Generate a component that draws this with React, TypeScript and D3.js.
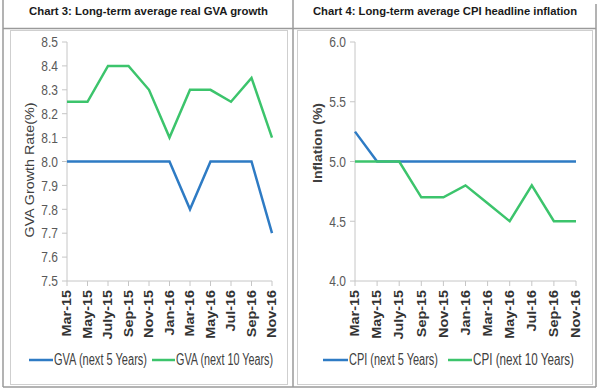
import React from "react";
import * as d3 from "d3";

const months = ["Mar-15", "May-15", "July-15", "Sep-15", "Nov-15", "Jan-16", "Mar-16", "May-16", "Jul-16", "Sep-16", "Nov-16"];

const gva5 = [8.0, 8.0, 8.0, 8.0, 8.0, 8.0, 7.8, 8.0, 8.0, 8.0, 7.7];
const gva10 = [8.25, 8.25, 8.4, 8.4, 8.3, 8.1, 8.3, 8.3, 8.25, 8.35, 8.1];
const gvaTicks = [7.5, 7.6, 7.7, 7.8, 7.9, 8.0, 8.1, 8.2, 8.3, 8.4, 8.5];

const cpi5 = [5.25, 5.0, 5.0, 5.0, 5.0, 5.0, 5.0, 5.0, 5.0, 5.0, 5.0];
const cpi10 = [5.0, 5.0, 5.0, 4.7, 4.7, 4.8, 4.65, 4.5, 4.8, 4.5, 4.5];
const cpiTicks = [4.0, 4.5, 5.0, 5.5, 6.0];

const BLUE = "#2e7bc4";
const GREEN = "#3cc46c";
const FONT = "'Liberation Sans', Arial, sans-serif";

type PanelProps = {
  title: string;
  titleX: number;
  titleLen: number;
  yLabel: string;
  yLabelX: number;
  yLabelY: number;
  yLabelLen: number;
  yLabelBold: boolean;
  x0: number;
  x1: number;
  domain: [number, number];
  ticks: number[];
  s5: number[];
  s10: number[];
  legend: { x: number; lineEnd: number; text: string; textLen: number; color: string }[];
};

function Panel(p: PanelProps) {
  const top = 42;
  const bottom = 281;
  const x = d3.scalePoint<string>().domain(months).range([p.x0, p.x1]);
  const y = d3.scaleLinear().domain(p.domain).range([bottom, top]);
  const line = d3
    .line<number>()
    .x((_, i) => x(months[i]) as number)
    .y((d) => y(d));

  return (
    <g fontFamily={FONT}>
      <text x={p.titleX} y={15} textAnchor="middle" fontSize={11} fontWeight="bold" fill="#1a1a1a"
        textLength={p.titleLen} lengthAdjust="spacingAndGlyphs">
        {p.title}
      </text>
      {/* y axis */}
      <line x1={p.x0} x2={p.x0} y1={top} y2={bottom} stroke="#c6c6c6" />
      {p.ticks.map((t) => (
        <g key={t}>
          <line x1={p.x0 - 5} x2={p.x0} y1={y(t)} y2={y(t)} stroke="#c6c6c6" />
          <g transform={`translate(${p.x0 - 9},${y(t)}) scale(1,1.25)`}>
            <text textAnchor="end" dy="0.35em" fontSize={12} fill="#595959">
              {d3.format(".1f")(t)}
            </text>
          </g>
        </g>
      ))}
      {/* x axis */}
      <line x1={p.x0} x2={p.x1} y1={bottom} y2={bottom} stroke="#c6c6c6" />
      {months.map((m) => (
        <g key={m}>
          <line x1={x(m)} x2={x(m)} y1={bottom} y2={bottom + 5} stroke="#c6c6c6" />
          <g transform={`translate(${x(m)},${bottom + 9}) rotate(-90) scale(1.2,1)`}>
            <text textAnchor="end" dy="0.35em" fontSize={12} fontWeight="bold" fill="#333">
              {m}
            </text>
          </g>
        </g>
      ))}
      <g transform={`translate(${p.yLabelX},${p.yLabelY}) rotate(-90)`}>
        <text textAnchor="middle" dy="0.35em" fontSize={12} fill="#404040"
          fontWeight={p.yLabelBold ? "bold" : "normal"}
          textLength={p.yLabelLen} lengthAdjust="spacingAndGlyphs">
          {p.yLabel}
        </text>
      </g>
      <path d={line(p.s5) ?? ""} fill="none" stroke={BLUE} strokeWidth={2.5} />
      <path d={line(p.s10) ?? ""} fill="none" stroke={GREEN} strokeWidth={2.5} />
      {p.legend.map((l) => (
        <g key={l.text}>
          <line x1={l.x} x2={l.lineEnd} y1={360} y2={360} stroke={l.color} strokeWidth={2.5} />
          <g transform={`translate(${l.lineEnd + 1},360) scale(1,1.3)`}>
            <text dy="0.35em" fontSize={12} fill="#404040" textLength={l.textLen} lengthAdjust="spacingAndGlyphs">
              {l.text}
            </text>
          </g>
        </g>
      ))}
    </g>
  );
}

export default function App() {
  return (
    <div style={{ position: "fixed", left: 0, top: 0 }}>
      <svg width={602} height={391} style={{ display: "block", background: "#fff" }}>
        {/* table frame */}
        <g stroke="#9a9a9a" strokeWidth={1.5} fill="none">
          <line x1={3} x2={3} y1={0} y2={387} />
          <line x1={293} x2={293} y1={0} y2={387} />
          <line x1={596} x2={596} y1={4} y2={387} />
          <line x1={3} x2={596} y1={28.5} y2={28.5} />
          <line x1={3} x2={596} y1={387} y2={387} />
        </g>
        <g stroke="#cfcfcf" fill="none">
          <rect x={10.5} y={30.5} width={277} height={354} />
          <rect x={297.5} y={30.5} width={295} height={354} />
        </g>
        <Panel
          title="Chart 3: Long-term average real GVA growth"
          titleX={148.5}
          titleLen={239}
          yLabel="GVA Growth Rate(%)"
          yLabelX={30}
          yLabelY={170}
          yLabelLen={135}
          yLabelBold={false}
          x0={67}
          x1={272}
          domain={[7.5, 8.5]}
          ticks={gvaTicks}
          s5={gva5}
          s10={gva10}
          legend={[
            { x: 29, lineEnd: 53, text: "GVA (next 5 Years)", textLen: 93, color: BLUE },
            { x: 152, lineEnd: 175, text: "GVA (next 10 Years)", textLen: 97, color: GREEN },
          ]}
        />
        <Panel
          title="Chart 4: Long-term average CPI headline inflation"
          titleX={445}
          titleLen={264}
          yLabel="Inflation (%)"
          yLabelX={318}
          yLabelY={143}
          yLabelLen={80}
          yLabelBold={true}
          x0={355}
          x1={576}
          domain={[4.0, 6.0]}
          ticks={cpiTicks}
          s5={cpi5}
          s10={cpi10}
          legend={[
            { x: 323, lineEnd: 348, text: "CPI (next 5 Years)", textLen: 89, color: BLUE },
            { x: 448, lineEnd: 472, text: "CPI (next 10 Years)", textLen: 101, color: GREEN },
          ]}
        />
      </svg>
    </div>
  );
}
